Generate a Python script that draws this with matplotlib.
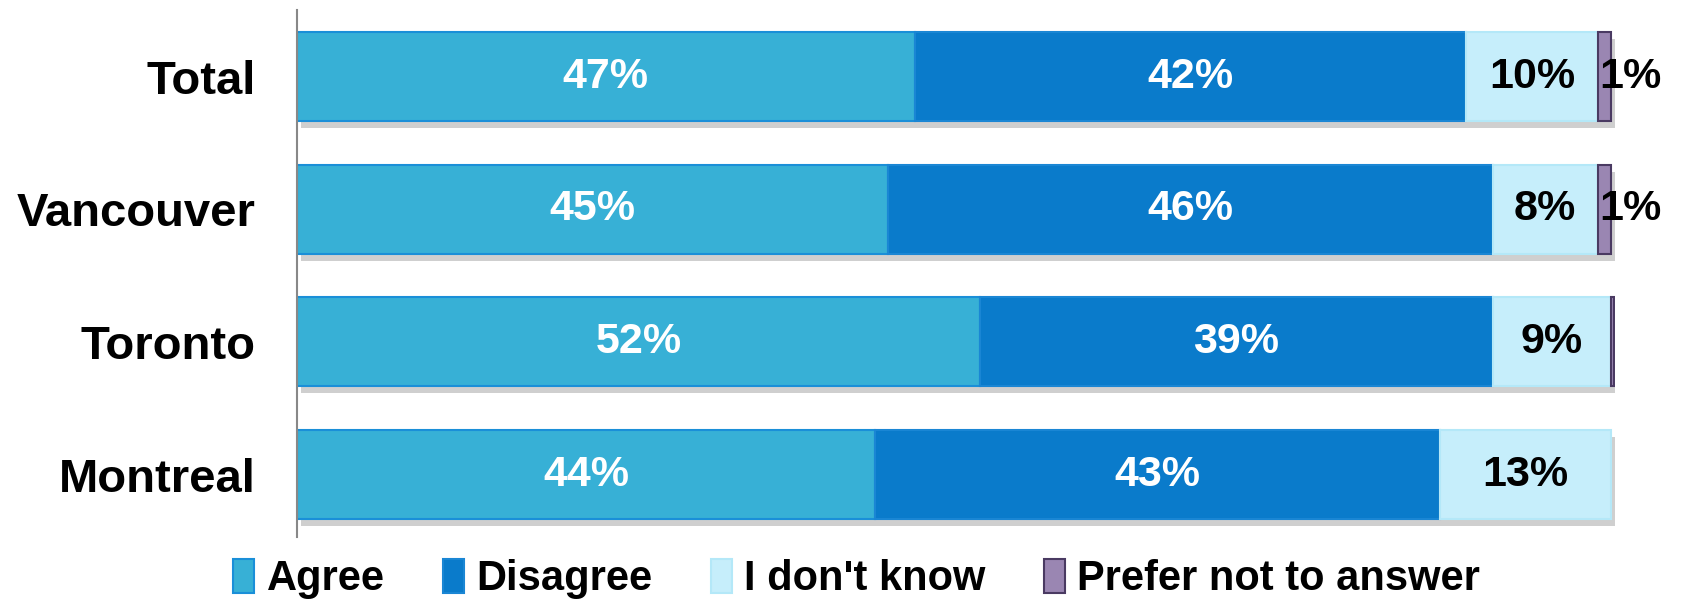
import matplotlib
matplotlib.use('Agg')
import matplotlib.pyplot as plt
import matplotlib.patheffects as pe
from matplotlib.patches import Rectangle
import numpy as np

plt.rcParams['font.family'] = ['Liberation Sans', 'DejaVu Sans']
plt.rcParams['font.weight'] = 'bold'

cities = ['Total', 'Vancouver', 'Toronto', 'Montreal']
series = ['Agree', 'Disagree', "I don't know", 'Prefer not to answer']
agree = [47, 45, 52, 44]
disagree = [42, 46, 39, 43]
dont_know = [10, 8, 9, 13]
prefer_not = [1, 1, 0.2, 0]

colors = ['#37b0d6', '#0a7bcb', '#c6eefb', '#9a86b2']
edges = ['#1a8fd8', '#1a86d4', '#b4e8f8', '#4a3a62']
label_colors = ['white', 'white', 'black', 'black']

fig = plt.figure(figsize=(16.83, 6), dpi=100)
ax = fig.add_axes([0.1765, 0.105, 0.783, 0.878])

y = np.arange(len(cities))
left = np.zeros(len(cities))
shadow = [pe.SimplePatchShadow(offset=(3, -5), shadow_rgbFace='#777777', alpha=0.35), pe.Normal()]
for vals, name, c, ec, lc in zip([agree, disagree, dont_know, prefer_not], series, colors, edges, label_colors):
    vals = np.array(vals, dtype=float)
    bars = ax.barh(y, vals, left=left, height=0.67, color=c, edgecolor=ec, linewidth=1.5, label=name)
    for b, v in zip(bars, vals):
        b.set_path_effects(shadow)
        if v == 0:
            b.set_visible(False)
    for yi, l, v in zip(y, left, vals):
        if v < 0.5:
            continue
        if name == 'Prefer not to answer':
            ax.annotate(f'{v:.0f}%', (l, yi), xytext=(1, 0), textcoords='offset points',
                        ha='left', va='center', fontsize=31, fontweight='bold', color=lc)
        else:
            ax.text(l + v / 2, yi, f'{v:.0f}%', ha='center', va='center',
                    fontsize=31, fontweight='bold', color=lc)
    left += vals

ax.set_xlim(0, 100.3)
ax.set_ylim(3.47, -0.5)
ax.set_yticks(y)
ax.set_yticklabels(cities, fontsize=34, fontweight='bold')
ax.tick_params(axis='y', length=0, pad=30)
ax.set_xticks([])
for s in ['top', 'right', 'bottom']:
    ax.spines[s].set_visible(False)
ax.spines['left'].set_color('#888888')
ax.spines['left'].set_linewidth(1.5)

handles = [Rectangle((0, 0), 1, 1, facecolor=c, edgecolor=ec, linewidth=1.5) for c, ec in zip(colors, edges)]
fig.legend(handles, series, loc='center', bbox_to_anchor=(0.509, 0.035), ncol=4, frameon=False,
           prop={'size': 30, 'weight': 'bold'}, handlelength=0.5, handleheight=0.9,
           handletextpad=0.3, columnspacing=1.4)

fig.savefig('out.png', dpi=100)
